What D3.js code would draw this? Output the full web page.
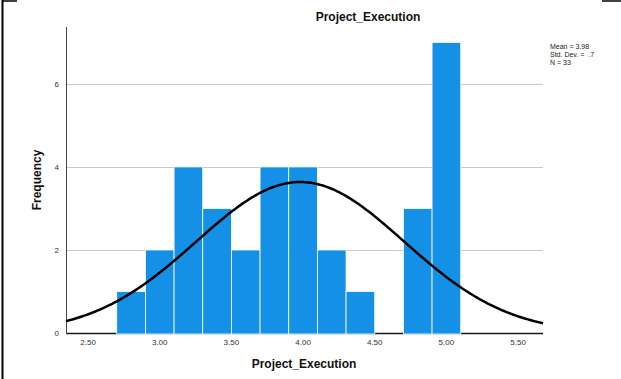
<!DOCTYPE html>
<html>
<head>
<meta charset="utf-8">
<script src="https://cdn.jsdelivr.net/npm/d3@7"></script>
<style>
  html, body { margin: 0; padding: 0; background: #fff; }
  svg { display: block; font-family: Arial, "Liberation Sans", sans-serif; }
</style>
</head>
<body>
<svg id="chart" width="621" height="379"></svg>
<script>
// Histogram bins (lower edges, width 0.2) and their counts
const binStarts = [2.7, 2.9, 3.1, 3.3, 3.5, 3.7, 3.9, 4.1, 4.3, 4.5, 4.7, 4.9];
const counts    = [1,   2,   4,   3,   2,   4,   4,   2,   1,   0,   3,   7];
const binWidth = 0.2;

// Summary statistics for the fitted normal curve
const mean = 3.98;
const stdDev = 0.724;
const n = 33;
const statLines = ["Mean = 3.98", "Std. Dev. =  .7", "N = 33"];

const xTicks = [2.5, 3.0, 3.5, 4.0, 4.5, 5.0, 5.5];
const yTicks = [0, 2, 4, 6];

const svg = d3.select("#chart");

const plot = { left: 66, right: 543, top: 27, bottom: 333 };

const x = d3.scaleLinear().domain([2.346, 5.674]).range([plot.left, plot.right]);
const y = d3.scaleLinear().domain([0, 7.37]).range([plot.bottom, plot.top]);

// Outer frame fragments
svg.append("line").attr("x1", 2.5).attr("x2", 2.5).attr("y1", 0).attr("y2", 379)
  .attr("stroke", "#000").attr("stroke-width", 2);
svg.append("line").attr("x1", 2).attr("x2", 17).attr("y1", 1).attr("y2", 1)
  .attr("stroke", "#000").attr("stroke-width", 1.5);
svg.append("line").attr("x1", 602).attr("x2", 621).attr("y1", 1).attr("y2", 1)
  .attr("stroke", "#000").attr("stroke-width", 1.5);

// Horizontal gridlines
svg.append("g").selectAll("line").data(yTicks.filter(d => d > 0)).join("line")
  .attr("x1", plot.left).attr("x2", plot.right)
  .attr("y1", d => Math.round(y(d)) + 0.5).attr("y2", d => Math.round(y(d)) + 0.5)
  .attr("stroke", "#c8c8c8").attr("stroke-width", 1.2);

// Baseline
svg.append("line").attr("x1", plot.left).attr("x2", plot.right)
  .attr("y1", plot.bottom + 0.5).attr("y2", plot.bottom + 0.5)
  .attr("stroke", "#1a1a1a").attr("stroke-width", 1.5);

// Bars
svg.append("g").selectAll("rect").data(binStarts.map((s, i) => ({ s, c: counts[i] })).filter(d => d.c > 0))
  .join("rect")
  .attr("x", d => x(d.s))
  .attr("width", d => x(d.s + binWidth) - x(d.s))
  .attr("y", d => y(d.c))
  .attr("height", d => y(0) - y(d.c) + 1)
  .attr("fill", "#1490e6")
  .attr("stroke", "#fff")
  .attr("stroke-width", 0.8);

// Y axis line
svg.append("line").attr("x1", plot.left + 0.5).attr("x2", plot.left + 0.5)
  .attr("y1", plot.top).attr("y2", plot.bottom + 1)
  .attr("stroke", "#444").attr("stroke-width", 1);

// Y tick labels
svg.append("g").selectAll("text").data(yTicks).join("text")
  .attr("x", 59).attr("y", d => y(d) + 3)
  .attr("text-anchor", "end").attr("font-size", 8).attr("fill", "#333")
  .text(d => d3.format("d")(d));

// X tick labels
svg.append("g").selectAll("text").data(xTicks).join("text")
  .attr("x", d => x(d)).attr("y", 345)
  .attr("text-anchor", "middle").attr("font-size", 8).attr("fill", "#333")
  .text(d => d3.format(".2f")(d));

// Fitted normal curve scaled to counts
const scale = n * binWidth / (stdDev * Math.sqrt(2 * Math.PI));
const curvePts = d3.range(0, 301).map(i => {
  const v = x.domain()[0] + (x.domain()[1] - x.domain()[0]) * i / 300;
  return [v, scale * Math.exp(-0.5 * ((v - mean) / stdDev) ** 2)];
});
svg.append("path").datum(curvePts)
  .attr("d", d3.line().x(d => x(d[0])).y(d => y(d[1])).curve(d3.curveBasis))
  .attr("fill", "none").attr("stroke", "#000").attr("stroke-width", 2.5);

// Titles
svg.append("text").attr("x", 368).attr("y", 21)
  .attr("text-anchor", "middle").attr("font-size", 12).attr("font-weight", "bold")
  .attr("fill", "#111").text("Project_Execution");
svg.append("text").attr("x", 304).attr("y", 368)
  .attr("text-anchor", "middle").attr("font-size", 12).attr("font-weight", "bold")
  .attr("fill", "#111").text("Project_Execution");
svg.append("text").attr("transform", "translate(41,180) rotate(-90)")
  .attr("text-anchor", "middle").attr("font-size", 12).attr("font-weight", "bold")
  .attr("fill", "#111").text("Frequency");

// Summary statistics
svg.append("g").selectAll("text").data(statLines).join("text")
  .attr("x", 550).attr("y", (d, i) => 49 + i * 8)
  .attr("font-size", 7).attr("fill", "#222")
  .attr("xml:space", "preserve").style("white-space", "pre")
  .text(d => d);
</script>
</body>
</html>
